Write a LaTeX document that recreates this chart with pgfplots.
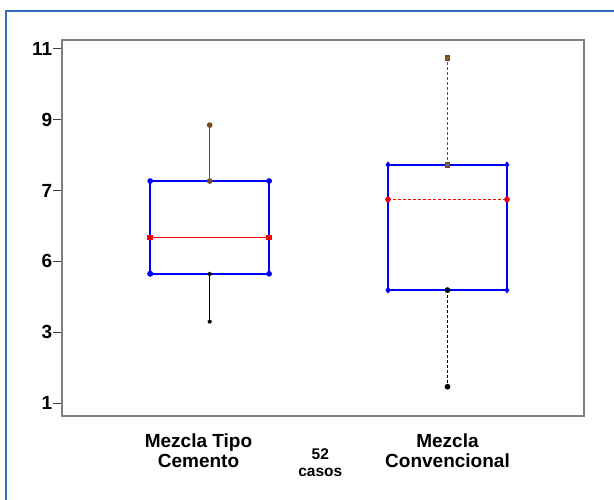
\documentclass[border=0pt]{standalone}
\usepackage{fontspec}
\setmainfont{Liberation Sans}
\usepackage{pgfplots}
\pgfplotsset{compat=1.18}
\definecolor{boxblue}{RGB}{88,122,192}
\definecolor{framblue}{RGB}{50,110,190}
\begin{document}
\begin{tikzpicture}
\path[use as bounding box] (0pt,0pt) rectangle (614pt,500pt);
\draw[framblue, line width=1.8pt] (6pt,0pt) -- (6pt,489pt) -- (614pt,489pt);
\begin{axis}[
  at={(62pt,84pt)}, anchor=south west,
  width=522pt, height=376pt, scale only axis,
  xmin=0.379, xmax=2.574, ymin=0.633, ymax=11.254,
  clip=false,
  axis line style={draw=black!50, line width=1.5pt},
  ytick={1,3,5,7,9,11},
  yticklabels={1,3,6,7,9,11},
  ytick pos=left, tick align=outside,
  major tick length=9pt,
  ytick style={draw=black!75, line width=1pt},
  xtick={0.953,2},
  xticklabels={{Mezcla Tipo\\Cemento},{Mezcla\\Convencional}},
  xtick style={draw=none},
  /pgf/number format/assume math mode=true,
  yticklabel style={font=\fontsize{19}{19}\selectfont\bfseries, inner sep=0.5pt},
  xticklabel style={font=\fontsize{19}{20.3}\selectfont\bfseries, align=center, yshift=-5pt},
  every axis plot/.append style={boxblue, line width=1.6pt, line join=miter, mark=none},
]
% Mezcla Tipo Cemento: whiskers 3.30 / 8.85, quartiles 4.65 / 7.27, median 5.67
\addplot coordinates {(0.75,4.65) (1.25,4.65) (1.25,7.27) (0.75,7.27) (0.75,4.65)};
\addplot coordinates {(0.75,5.67) (1.25,5.67)};
\addplot coordinates {(1,7.27) (1,8.85)};
\addplot coordinates {(1,4.65) (1,3.30)};
% Mezcla Convencional: whiskers 1.46 / 10.74, quartiles 4.19 / 7.73, median 6.75
\addplot coordinates {(1.75,4.19) (2.25,4.19) (2.25,7.73) (1.75,7.73) (1.75,4.19)};
\addplot coordinates {(1.75,6.75) (2.25,6.75)};
\addplot coordinates {(2,7.73) (2,10.74)};
\addplot coordinates {(2,4.19) (2,1.46)};
\node[font=\fontsize{15.5}{16.5}\selectfont\bfseries, align=center] at (axis cs:1.465,-0.69) {52\\casos};
\end{axis}
\end{tikzpicture}
\end{document}
